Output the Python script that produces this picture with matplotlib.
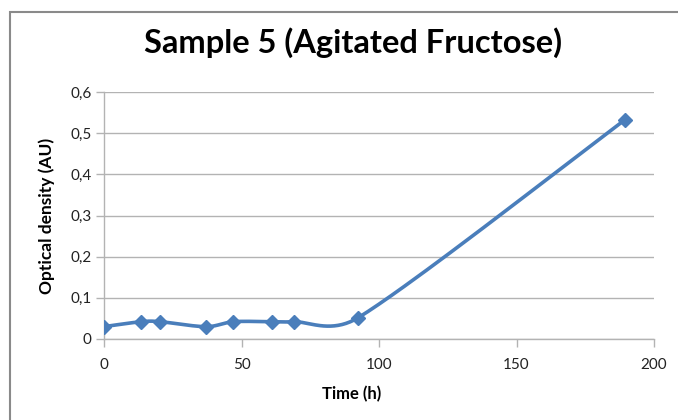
import numpy as np
import matplotlib
matplotlib.use("Agg")
import matplotlib.pyplot as plt
from matplotlib.patches import Rectangle
from matplotlib.ticker import FuncFormatter

time_h = [0, 13.5, 20.5, 37, 47, 61, 69, 92.5, 189.5]
od_au = [0.03, 0.042, 0.042, 0.03, 0.042, 0.042, 0.042, 0.052, 0.533]
title = "Sample 5 (Agitated Fructose)"
xlabel = "Time (h)"
ylabel = "Optical density (AU)"
xticks = [0, 50, 100, 150, 200]
yticks = [0, 0.1, 0.2, 0.3, 0.4, 0.5, 0.6]

W, H = 678, 420
fig = plt.figure(figsize=(W / 100, H / 100), dpi=100)
font = "Lato"
line_color = "#4a7ebb"
grid_color = "#b3b3b3"

# chart border
fig.patches.append(Rectangle((10 / W, -0.1), 1.2, 1 - 12 / H + 0.1,
                             transform=fig.transFigure, fill=False,
                             edgecolor="#8a8a8a", linewidth=1.5))

L, R, T, B = 104, 654, 92, 339
ax = fig.add_axes([L / W, 1 - B / H, (R - L) / W, (B - T) / H])
ax.set_xlim(0, 200)
ax.set_ylim(0, 0.6)


def excel_smooth(xs, ys, sx, sy, n=40):
    px = np.asarray(xs, float) * sx
    py = np.asarray(ys, float) * sy
    P = np.column_stack([px, py])
    m = len(P)
    out = [P[0]]
    for i in range(m - 1):
        p0 = P[i - 1] if i > 0 else P[i]
        p1 = P[i]
        p2 = P[i + 1]
        p3 = P[i + 2] if i + 2 < m else P[i + 1]
        seg = np.linalg.norm(p2 - p1)
        t1 = (p2 - p0) / 6.0
        t2 = (p3 - p1) / 6.0
        for t in (t1, t2):
            ln = np.linalg.norm(t)
            if ln > seg / 2 and ln > 0:
                t *= (seg / 2) / ln
        c1 = p1 + t1
        c2 = p2 - t2
        tt = np.linspace(0, 1, n)[1:, None]
        curve = ((1 - tt) ** 3) * p1 + 3 * ((1 - tt) ** 2) * tt * c1 + 3 * (1 - tt) * tt ** 2 * c2 + tt ** 3 * p2
        out.extend(curve)
    out = np.array(out)
    return out[:, 0] / sx, out[:, 1] / sy


sx_, sy_ = excel_smooth(time_h, od_au, 2.75, 410)
ax.plot(sx_, sy_, color=line_color, lw=2.6, solid_capstyle="round", zorder=3)
ax.plot(time_h, od_au, linestyle="none", marker="D", markersize=7.5,
        color=line_color, zorder=4)

ax.set_xticks(xticks)
ax.set_yticks(yticks)
ax.yaxis.set_major_formatter(FuncFormatter(lambda v, p: ("%g" % round(v, 1)).replace(".", ",")))
ax.grid(axis="y", color=grid_color, linewidth=1)
ax.set_axisbelow(True)
for s in ("top", "right"):
    ax.spines[s].set_visible(False)
for s in ("left", "bottom"):
    ax.spines[s].set_color(grid_color)
    ax.spines[s].set_linewidth(1)
ax.tick_params(axis="y", direction="out", length=6, width=1, color=grid_color,
               pad=3, labelsize=11, labelcolor="#222222")
ax.tick_params(axis="x", direction="out", length=6, width=1, color=grid_color,
               pad=8, labelsize=11, labelcolor="#222222")
for lab in ax.get_xticklabels() + ax.get_yticklabels():
    lab.set_fontfamily(font)

ax.set_xlabel(xlabel, fontfamily=font, fontweight="bold", fontsize=12)
ax.xaxis.set_label_coords((351.7 - L) / (R - L), 1 - (394 - T) / (B - T))
ax.xaxis.label.set_va("center")
ax.set_ylabel(ylabel, fontfamily=font, fontweight="bold", fontsize=12.5)
ax.yaxis.set_label_coords((47 - L) / (R - L), 0.5)
ax.yaxis.label.set_va("center")

fig.text(353.5 / W, 1 - 43 / H, title, ha="center", va="center",
         fontfamily=font, fontweight="bold", fontsize=23.5)

fig.savefig("out.png", dpi=100)
